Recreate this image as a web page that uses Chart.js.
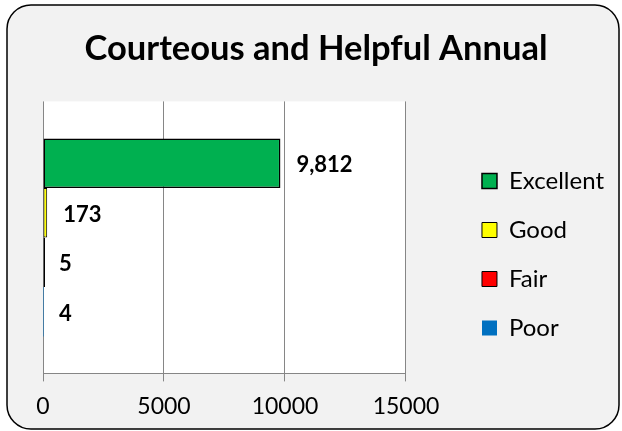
<!DOCTYPE html>
<html>
<head>
<meta charset="utf-8">
<script src="https://cdn.jsdelivr.net/npm/chart.js@4/dist/chart.umd.min.js"></script>
<style>
  html, body { margin: 0; padding: 0; background: #ffffff; }
  #wrap { width: 622px; height: 431px; }
</style>
</head>
<body>
<div id="wrap"><canvas id="c" width="622" height="431"></canvas></div>
<script>
// ---- data ----
const chartTitle = 'Courteous and Helpful Annual';
const seriesNames = ['Excellent', 'Good', 'Fair', 'Poor'];
const seriesValues = [9812, 173, 5, 4];
const seriesColors = ['#00b050', '#ffff00', '#ff0000', '#0070c0'];
const xTickLabels = ['0', '5000', '10000', '15000'];
const xMin = 0, xMax = 15000, xStep = 5000;

const FONT = 'Lato';

const bgPlugin = {
  id: 'bgPlugin',
  beforeDraw(chart) {
    const ctx = chart.ctx;
    ctx.save();
    ctx.fillStyle = '#ffffff';
    ctx.fillRect(0, 0, chart.width, chart.height);
    const x = 7, y = 5, w = 612, h = 424, r = 24;
    ctx.beginPath();
    ctx.moveTo(x + r, y);
    ctx.lineTo(x + w - r, y);
    ctx.arcTo(x + w, y, x + w, y + r, r);
    ctx.lineTo(x + w, y + h - r);
    ctx.arcTo(x + w, y + h, x + w - r, y + h, r);
    ctx.lineTo(x + r, y + h);
    ctx.arcTo(x, y + h, x, y + h - r, r);
    ctx.lineTo(x, y + r);
    ctx.arcTo(x, y, x + r, y, r);
    ctx.closePath();
    ctx.fillStyle = '#f2f2f2';
    ctx.fill();
    ctx.lineWidth = 1.5;
    ctx.strokeStyle = '#000000';
    ctx.stroke();
    const a = chart.chartArea;
    ctx.fillStyle = '#ffffff';
    ctx.fillRect(a.left, a.top, a.right - a.left, a.bottom - a.top);
    ctx.restore();
  }
};

const labelPlugin = {
  id: 'labelPlugin',
  afterDatasetsDraw(chart) {
    const ctx = chart.ctx;
    const xs = chart.scales.x;
    ctx.save();
    ctx.font = 'bold 22px ' + FONT;
    ctx.fillStyle = '#000000';
    ctx.textAlign = 'left';
    ctx.textBaseline = 'middle';
    chart.data.datasets.forEach((ds, i) => {
      const el = chart.getDatasetMeta(i).data[0];
      const v = ds.data[0];
      const px = xs.getPixelForValue(v);
      ctx.fillText(v.toLocaleString('en-US'), px + 16, el.y + 2);
    });
    ctx.restore();
  }
};

const borderWidths = [1.5, 1, 1, 0];
const datasets = seriesNames.map((name, i) => ({
  label: name,
  data: [seriesValues[i]],
  backgroundColor: seriesColors[i],
  borderColor: '#000000',
  borderWidth: borderWidths[i],
  borderSkipped: false,
  minBarLength: i >= 2 ? (i === 2 ? 2 : 1) : 0,
  categoryPercentage: 0.728,
  barPercentage: 1.0
}));

new Chart(document.getElementById('c'), {
  type: 'bar',
  data: { labels: [''], datasets },
  options: {
    indexAxis: 'y',
    responsive: false,
    animation: false,
    devicePixelRatio: 1,
    layout: { padding: { left: 18, right: 8, top: 0, bottom: 0 } },
    plugins: {
      title: {
        display: true,
        text: chartTitle,
        color: '#000000',
        font: { family: FONT, size: 34.5, weight: 'bold' },
        padding: { top: 28, bottom: 32 }
      },
      legend: {
        display: true,
        position: 'right',
        fullSize: true,
        align: 'center',
        maxWidth: 220,
        title: { display: true, text: ' ', font: { size: 12 }, padding: { top: 63.6, bottom: 0 } },
        labels: {
          color: '#000000',
          font: { family: FONT, size: 24 },
          boxWidth: 15,
          boxHeight: 15,
          padding: 25
        }
      },
      tooltip: { enabled: false }
    },
    scales: {
      x: {
        type: 'linear',
        min: xMin,
        max: xMax,
        ticks: {
          stepSize: xStep,
          color: '#000000',
          font: { family: FONT, size: 23 },
          padding: 11,
          minRotation: 0,
          maxRotation: 0,
          callback: (v, idx) => xTickLabels[idx]
        },
        grid: { color: '#868686', lineWidth: 1, tickLength: 8 },
        border: { color: '#868686', width: 1 }
      },
      y: {
        type: 'category',
        position: 'left',
        ticks: { display: false },
        grid: { display: false },
        border: { display: false },
        afterFit: (s) => { s.width = 25; }
      },
      y2: {
        type: 'linear',
        position: 'right',
        min: 0,
        max: 1,
        ticks: { display: false },
        grid: { display: false },
        border: { display: false },
        afterFit: (s) => { s.width = 51; }
      }
    }
  },
  plugins: [bgPlugin, labelPlugin]
});
</script>
</body>
</html>
